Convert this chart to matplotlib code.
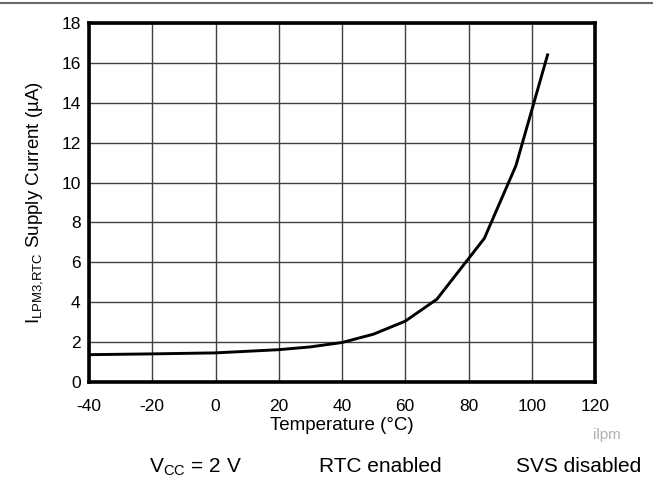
import matplotlib.pyplot as plt
from matplotlib.lines import Line2D

plt.rcParams['font.family'] = ['Liberation Sans', 'DejaVu Sans']
plt.rcParams['axes.unicode_minus'] = False

# curve
temperature = [-40, -20, 0, 20, 30, 40, 50, 60, 70, 85, 95, 105]
current = [1.37, 1.41, 1.46, 1.62, 1.76, 1.98, 2.4, 3.05, 4.15, 7.2, 10.85, 16.4]

x_ticks = [-40, -20, 0, 20, 40, 60, 80, 100, 120]
y_ticks = [0, 2, 4, 6, 8, 10, 12, 14, 16, 18]

W, H = 653, 482
L, R, T, B = 89, 595, 23, 382

fig = plt.figure(figsize=(W / 100, H / 100), dpi=100)
ax = fig.add_axes([L / W, 1 - B / H, (R - L) / W, (B - T) / H])

ax.plot(temperature, current, color='black', lw=2.1, solid_joinstyle='miter', zorder=3)

ax.set_xlim(-40, 120)
ax.set_ylim(0, 18)
ax.set_xticks(x_ticks)
ax.set_yticks(y_ticks)
ax.grid(True, color='#404040', lw=1.0)
ax.tick_params(length=0, labelsize=12.5)
ax.tick_params(axis='x', pad=12)
ax.tick_params(axis='y', pad=6)
for s in ax.spines.values():
    s.set_linewidth(2.6)
    s.set_zorder(4)

ax.set_xlabel('Temperature (°C)', fontsize=13.5)
ax.xaxis.label.set_va('center')
ax.xaxis.set_label_coords(0.5, (B - 425) / (B - T))
ax.set_ylabel(r'I$_{\mathregular{LPM3{,}RTC}}$ Supply Current (µA)', fontsize=13.5)
ax.yaxis.label.set_va('center')
ax.yaxis.set_label_coords((35 - L) / (R - L), 0.5)

fig.add_artist(Line2D([0, 1], [1 - 3 / H, 1 - 3 / H], color='#6a6a6a', lw=1.5))
fig.text(607 / W, 1 - 435 / H, 'ilpm', fontsize=11, color='#b0b0b0', ha='center', va='center')
fig.text(195 / W, 1 - 467 / H, r'V$_{\mathregular{CC}}$ = 2 V', fontsize=15, ha='center', va='center')
fig.text(380 / W, 1 - 467 / H, 'RTC enabled', fontsize=15, ha='center', va='center')
fig.text(641 / W, 1 - 467 / H, 'SVS disabled', fontsize=15, ha='right', va='center')

fig.savefig('out.png', dpi=100)
